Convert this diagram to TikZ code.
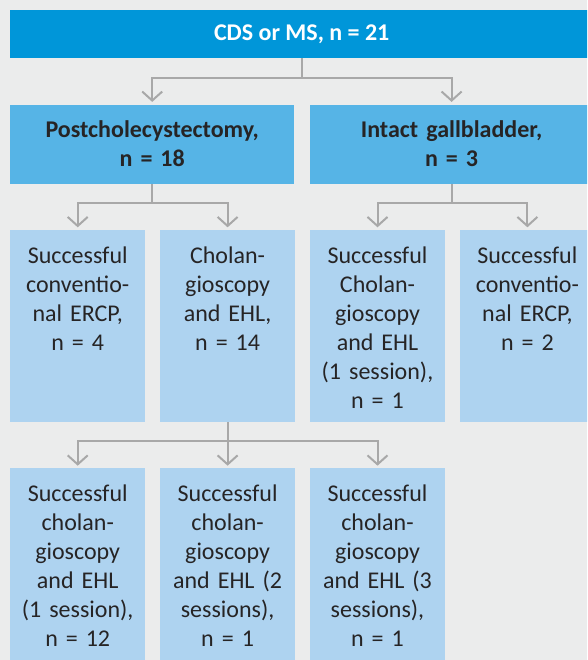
\documentclass[tikz,border=0pt]{standalone}
\usepackage{fontspec}
\setmainfont{Carlito}
\usepackage{tikz}
\usetikzlibrary{arrows.meta,positioning}
\definecolor{cBg}{HTML}{EBECEC}
\definecolor{cHead}{HTML}{0096D9}
\definecolor{cGrp}{HTML}{56B4E6}
\definecolor{cLeaf}{HTML}{AED3F0}
\definecolor{cLine}{HTML}{A8A8A8}
\definecolor{cTxt}{HTML}{262425}
\tikzset{
  headbox/.style={fill=cHead, text=white, font=\fontsize{24pt}{29pt}\selectfont\bfseries,
                  minimum width=583pt, minimum height=48pt, inner sep=0pt},
  grpbox/.style={fill=cGrp, text=cTxt, font=\fontsize{24pt}{29pt}\selectfont\bfseries,
                 align=center, text width=276pt, inner xsep=4pt, inner ysep=0pt,
                 minimum height=79pt},
  leafbox/.style={fill=cLeaf, text=cTxt, font=\fontsize{24pt}{29pt}\selectfont,
                  align=center, text width=127pt, inner xsep=4pt, inner ysep=4pt,
                  text height=29pt, text depth=155pt},
  flow/.style={-{Straight Barb[length=9pt,width=20pt]}, line width=2pt, draw=cLine,
               shorten >=2.5pt},
}

\begin{document}
\begin{tikzpicture}[node distance=0pt]
\useasboundingbox (0,0) rectangle (587pt,-660pt);
\clip (0,0) rectangle (587pt,-660pt);
\fill[cBg] (0,0) rectangle (587pt,-660pt);
\def\drop{19pt}
\node[headbox, anchor=north west] (cds) at (10pt,-10pt) {CDS or MS, n = 21};
\node[grpbox, below right=46pt and 0pt of cds.south west] (post)
  {Postcholecystectomy,\\ n = 18};
\node[grpbox, right=15pt of post] (intact)
  {Intact gallbladder,\\ n = 3};
\node[leafbox, below right=46pt and 0pt of post.south west] (conv)
  {Successful\\ conventio-\\ nal ERCP,\\ n = 4};
\node[leafbox, right=14.5pt of conv] (chol)
  {Cholan-\\ gioscopy\\ and EHL,\\ n = 14};
\node[leafbox, right=14.5pt of chol] (icho)
  {Successful\\ Cholan-\\ gioscopy\\ and EHL\\ (1 session),\\ n = 1};
\node[leafbox, right=14.5pt of icho] (icon)
  {Successful\\ conventio-\\ nal ERCP,\\ n = 2};
\node[leafbox, below right=46pt and 0pt of conv.south west] (ses1)
  {Successful\\ cholan-\\ gioscopy\\ and EHL\\ (1 session),\\ n = 12};
\node[leafbox, right=14.5pt of ses1] (ses2)
  {Successful\\ cholan-\\ gioscopy\\ and EHL (2\\ sessions),\\ n = 1};
\node[leafbox, right=14.5pt of ses2] (ses3)
  {Successful\\ cholan-\\ gioscopy\\ and EHL (3\\ sessions),\\ n = 1};

\draw[flow] (cds.south) -- ++(0,-20pt) -| (post.north);
\draw[flow] (cds.south) -- ++(0,-20pt) -| (intact.north);
\draw[flow] (post.south) -- ++(0,-\drop) -| (conv.north);
\draw[flow] (post.south) -- ++(0,-\drop) -| (chol.north);
\draw[flow] (intact.south) -- ++(0,-\drop) -| (icho.north);
\draw[flow] (intact.south) -- ++(0,-\drop) -| (icon.north);
\draw[flow] (chol.south) -- ++(0,-\drop) -| (ses1.north);
\draw[flow] (chol.south) -- (ses2.north);
\draw[flow] (chol.south) -- ++(0,-\drop) -| (ses3.north);
\end{tikzpicture}
\end{document}
